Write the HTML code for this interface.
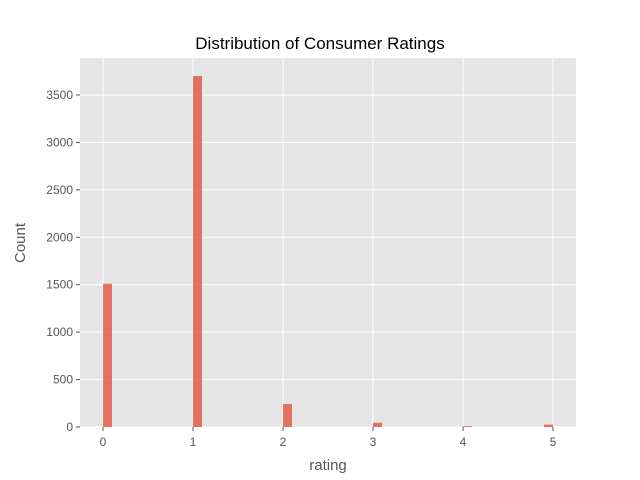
<!DOCTYPE html>
<html><head><meta charset="utf-8"><style>body{margin:0;background:#fff}svg{display:block;font-family:"Liberation Sans","DejaVu Sans",sans-serif}</style></head>
<body>
<svg id="chart" width="640" height="480">
<rect x="80" y="58" width="496" height="369" fill="#e5e5e5"/>
<g id="grid"></g><g id="bars"></g><g id="ticks"></g>
<text x="320" y="49" text-anchor="middle" font-size="17" fill="#000">Distribution of Consumer Ratings</text>
<text x="328" y="470" text-anchor="middle" font-size="15" fill="#555">rating</text>
<text transform="translate(25,243) rotate(-90)" text-anchor="middle" font-size="15" fill="#555">Count</text>
</svg>
<script>
const binStarts=[0,1,2,3,4,4.9];
const counts=[1510,3700,242,45,10,25];
const binWidth=0.1;
const xTicks=[0,1,2,3,4,5];
const yTicks=[0,500,1000,1500,2000,2500,3000,3500];
const NS="http://www.w3.org/2000/svg";
const xs=v=>103+v*90, ys=v=>427-v*332/3500;
const g=document.getElementById('grid'),b=document.getElementById('bars'),t=document.getElementById('ticks');
function mk(tag,a,p){const e=document.createElementNS(NS,tag);for(const k in a)e.setAttribute(k,a[k]);p.appendChild(e);return e;}
xTicks.forEach(v=>{
 const l=mk('line',{x1:xs(v),x2:xs(v),y1:58,y2:427,stroke:'#fff','stroke-width':1},g);
 
 
 mk('line',{x1:xs(v),x2:xs(v),y1:427,y2:431,stroke:'#555'},t);
 const tx=mk('text',{x:xs(v),y:446,'text-anchor':'middle','font-size':12,fill:'#555'},t);tx.textContent=v;
 
 
});
yTicks.forEach(v=>{
 const l=mk('line',{x1:80,x2:576,y1:ys(v),y2:ys(v),stroke:'#fff','stroke-width':1},g);
 
 
 mk('line',{x1:76,x2:80,y1:ys(v),y2:ys(v),stroke:'#555'},t);
 const tx=mk('text',{x:73,y:ys(v)+4,'text-anchor':'end','font-size':12,fill:'#555'},t);tx.textContent=v;
 
 
});
binStarts.forEach((s,i)=>{
 const r=mk('rect',{x:xs(s),y:ys(counts[i]),width:xs(s+binWidth)-xs(s),height:ys(0)-ys(counts[i]),fill:'#e24a33','fill-opacity':0.75},b);
 
 
});
</script>
</body></html>
